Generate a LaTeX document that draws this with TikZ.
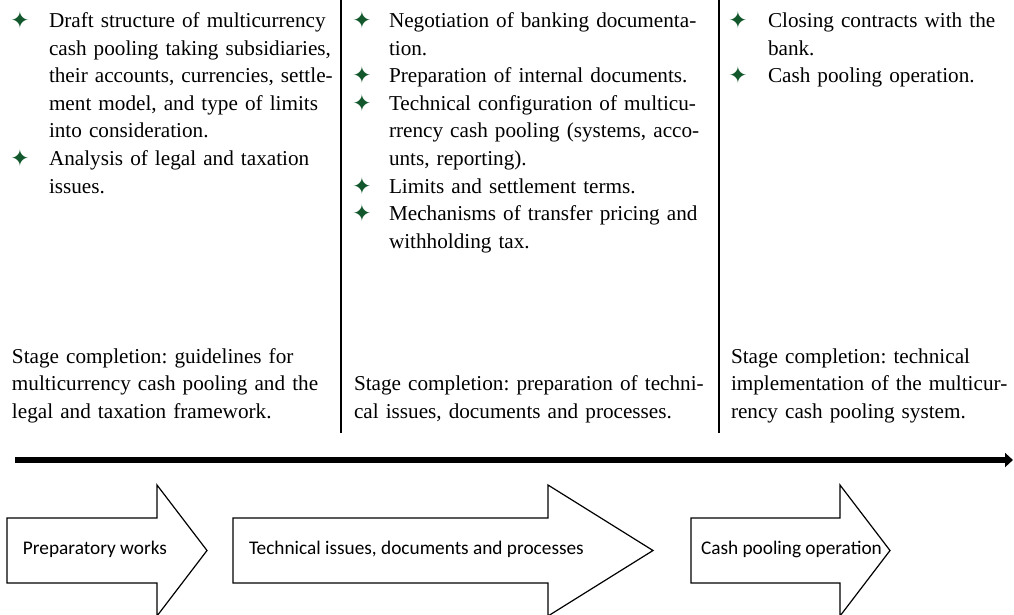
\documentclass[tikz,border=0pt]{standalone}
\usepackage{fontspec}
\setmainfont{Liberation Serif}
\newfontfamily\arrowfont{Carlito}
\newfontfamily\starfont{DejaVu Sans}
\usetikzlibrary{arrows.meta,positioning}
\definecolor{stargreen}{RGB}{18,88,44}
\frenchspacing
\newcommand{\jline}[1]{\makebox[\linewidth][s]{#1}}
\newcommand{\greenstar}{{\starfont\color{stargreen}\fontsize{23}{23}\selectfont ✦}}

\begin{document}
\begin{tikzpicture}[x=1pt,y=-1pt,
  every node/.style={inner sep=0pt,outer sep=0pt},
  itemtext/.style={anchor=base west,align=left,font=\fontsize{21.2}{27.6}\selectfont},
  bullet/.style={anchor=base},
  stagetext/.style={anchor=base west,align=left,font=\fontsize{21.2}{27.6}\selectfont},
  colsep/.style={line width=1.1pt},
  timeline/.style={line width=6pt,-{Triangle[length=8pt,width=14pt]}},
  blockarrow/.style={line width=1.2pt,line join=miter},
  arrowlabel/.style={anchor=west,font=\arrowfont\fontsize{19.3}{22}\selectfont}]
\useasboundingbox (0,0) rectangle (1014,614);
\pgfmathsetmacro{\p}{27.6}
\pgfmathsetmacro{\t}{27.5}
% column separators
\coordinate (s1) at (341,0);
\coordinate (s1end) at (341,433);
\coordinate (s2) at (719,0);
\coordinate (s2end) at (719,433);
\draw[colsep] (s1)--(s1end);
\draw[colsep] (s2)--(s2end);
% first column
\node[bullet] (b11) at (20,{\t+1}) {\greenstar};
\node[itemtext,text width=279pt] (i11) at (49,\t) {\jline{Draft structure of multicurrency}\\
\jline{cash pooling taking subsidiaries,}\\
\jline{their accounts, currencies, settle-}\\
\jline{ment model, and type of limits}\\
into consideration.};
\node[bullet] (b12) at (20,{\t+5*\p+1}) {\greenstar};
\node[itemtext,text width=279pt] (i12) at (49,{\t+5*\p}) {\jline{Analysis of legal and taxation}\\
issues.};
% second column
\node[bullet] (b21) at (362,{\t+1}) {\greenstar};
\node[itemtext,text width=320pt] (i21) at (389,\t) {\jline{Negotiation of banking documenta-}\\
tion.};
\node[bullet] (b22) at (362,{\t+2*\p+1}) {\greenstar};
\node[itemtext,text width=320pt] (i22) at (389,{\t+2*\p}) {Preparation of internal documents.};
\node[bullet] (b23) at (362,{\t+3*\p+1}) {\greenstar};
\node[itemtext,text width=320pt] (i23) at (389,{\t+3*\p}) {\jline{Technical configuration of multicu-}\\
\jline{rrency cash pooling (systems, acco-}\\
unts, reporting).};
\node[bullet] (b24) at (362,{\t+6*\p+1}) {\greenstar};
\node[itemtext,text width=320pt] (i24) at (389,{\t+6*\p}) {Limits and settlement terms.};
\node[bullet] (b25) at (362,{\t+7*\p+1}) {\greenstar};
\node[itemtext,text width=320pt] (i25) at (389,{\t+7*\p}) {\jline{Mechanisms of transfer pricing and}\\
withholding tax.};
% third column
\node[bullet] (b31) at (738,{\t+1}) {\greenstar};
\node[itemtext,text width=244pt] (i31) at (768,\t) {\jline{Closing contracts with the}\\
bank.};
\node[bullet] (b32) at (738,{\t+2*\p+1}) {\greenstar};
\node[itemtext,text width=244pt] (i32) at (768,{\t+2*\p}) {Cash pooling operation.};
% stage completion
\node[stagetext,text width=325pt] (st1) at (12,363) {Stage completion: guidelines for\\
multicurrency cash pooling and the\\
legal and taxation framework.};
\node[stagetext,text width=360pt] (st2) at (354,{363+\p}) {Stage completion: preparation of techni-\\
cal issues, documents and processes.};
\node[stagetext,text width=283pt] (st3) at (731,363) {Stage completion: technical\\
implementation of the multicur-\\
rency cash pooling system.};
% time line
\coordinate (t0) at (15,460);
\coordinate (t1) at (1013,460);
\draw[timeline] (t0)--(t1);
% block arrows
\draw[blockarrow] (7,518)--(157,518)--(157,485)--(207,550.5)--(157,616)--(157,583)--(7,583)--cycle;
\draw[blockarrow] (233,518)--(548,518)--(548,485)--(653,550.5)--(548,616)--(548,583)--(233,583)--cycle;
\draw[blockarrow] (691,518)--(840,518)--(840,485)--(890,550.5)--(840,616)--(840,583)--(691,583)--cycle;
\node[arrowlabel] (a1) at (23,549) {Preparatory works};
\node[arrowlabel] (a2) at (249,549) {Technical issues, documents and processes};
\node[arrowlabel] (a3) at (701,549) {Cash pooling operation};
\end{tikzpicture}
\end{document}
